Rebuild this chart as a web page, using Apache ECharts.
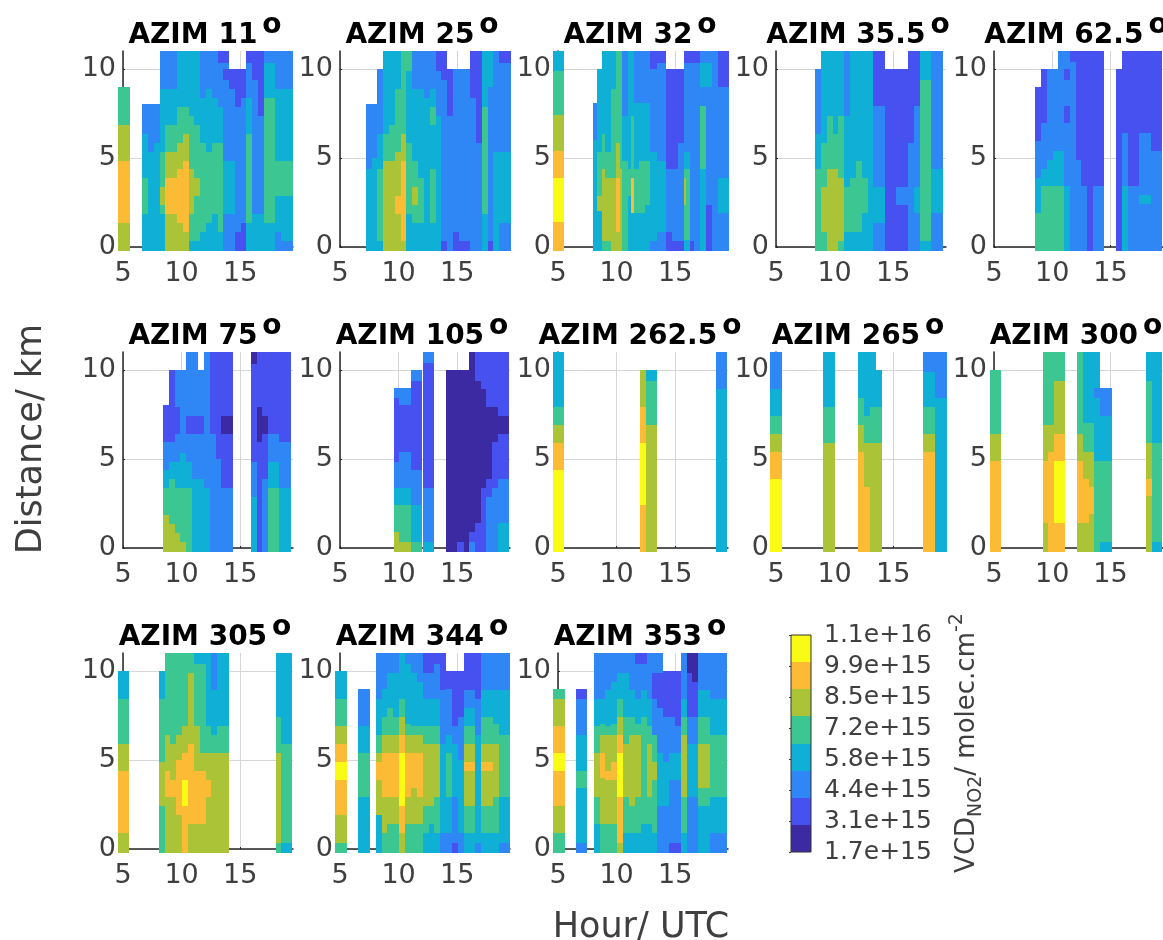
<!DOCTYPE html>
<html><head><meta charset="utf-8">
<style>html,body{margin:0;padding:0;background:#fff}#c{width:1163px;height:940px}</style>
<script src="https://cdn.jsdelivr.net/npm/echarts@6/dist/echarts.min.js"></script>
</head><body><div id="c"></div>
<script>
// Each column: [hourFrom, hourTo, [band, topKm, band, topKm, ...]] – bands stacked upward from the lowest row.
const az11 = [
[4.57,5.57,[5,1.35,6,4.85,5,6.85,4,9]],
[6.65,7.14,[3,1.85,4,3.85,3,6.35,2,8]],[7.14,7.64,[3,5.35,2,8]],[7.64,8.13,[3,5.85,2,8]],
[8.13,8.62,[3,1.85,4,2.35,5,3.35,4,5.35,3,8.85,2,11]],
[8.62,9.61,[5,1.85,6,3.85,5,5.35,4,6.85,3,8.85,2,11]],
[9.61,10.1,[5,1.35,6,4.35,5,5.85,4,7.85,3,11]],
[10.1,10.6,[5,.85,6,4.85,5,6.35,4,7.85,3,11]],
[10.6,11.09,[3,.35,4,1.85,5,4.35,4,7.35,3,11]],
[11.09,11.59,[3,.35,4,2.85,5,3.85,4,6.85,3,11]],
[11.59,12.08,[3,.85,4,5.85,3,8.35,2,11]],
[12.08,12.57,[3,1.35,4,5.35,3,8.85,2,11]],
[12.57,13.07,[3,1.85,4,5.85,3,8.35,2,11]],
[13.07,13.56,[3,.85,4,5.85,3,7.85,2,10.35,1,11]],
[13.56,14.05,[2,1.85,3,4.85,2,9.35,1,10,2,10.35,1,11]],
[14.05,14.55,[2,1.85,3,4.85,2,8.85,1,10]],
[14.55,15.04,[1,.85,2,7.85,1,10]],
[15.04,15.53,[1,1.35,2,8.35,1,10]],
[15.53,16.03,[3,1.35,4,6.35,3,8.35,2,10.35,1,11]],
[16.03,16.52,[3,1.85,2,9.35,1,11]],
[16.52,17.02,[3,1.85,2,7.35,1,11]],
[17.02,18.0,[3,1.35,4,8.35,3,10.35,2,11]],
[18.0,18.5,[2,.85,3,2.85,4,4.85,3,8.85,2,11]],
[18.5,19.48,[2,.35,3,2.85,4,4.85,3,8.85,2,11]]];
const az25 = [
[7.22,7.71,[3,4.35,2,8]],[7.71,8.19,[3,5,2,8]],
[8.19,8.7,[3,.35,4,4.35,3,6.35,2,10]],
[8.7,9.19,[5,4.85,4,6.35,3,11]],[9.19,9.7,[5,4.85,4,6.85,3,11]],
[9.7,10.19,[5,1.85,6,2.85,5,5.35,4,8.85,3,11]],
[10.19,10.67,[5,.35,6,4.85,5,6.35,4,11]],
[10.67,11.18,[3,1.85,4,5.85,3,9.85,4,11]],
[11.18,11.67,[3,1.35,4,2.35,5,3.35,4,4.85,3,8.85,2,11]],
[11.67,12.15,[3,1.35,4,3.85,3,8.85,2,11]],
[12.15,12.64,[3,8.35,2,11]],
[12.64,13.15,[3,1.35,4,4.35,3,6.85,4,7.85,3,8.85,2,11]],
[13.15,13.63,[3,7.35,2,9.85,1,11]],
[13.63,14.12,[1,.35,2,9.35,1,11]],
[14.12,14.63,[2,7.35,1,10]],
[14.63,15.11,[1,.85,2,10]],
[15.11,16.11,[1,.35,2,10]],
[16.11,16.6,[2,8.35,1,11]],
[16.6,17.08,[2,5.85,1,11]],
[17.08,17.59,[3,1.85,4,7.85,3,11]],
[17.59,18.03,[1,.35,2,9,3,11]],
[18.08,18.56,[3,5.35,2,11]],
[18.56,19.56,[2,1.35,3,5.35,2,10.35,1,11]]];
const az32 = [
[4.55,5.5,[6,1.4,7,3.9,6,5.4,5,7.4,4,9.9,3,11]],
[7.96,8.3,[3,6,2,8.1]],
[8.3,8.73,[3,2,5,2.85,4,5.35,3,10]],
[8.73,9.02,[4,.35,5,4.35,4,6.35,3,11]],
[9.02,9.5,[4,.35,5,3.85,4,5.35,3,11]],
[9.5,9.96,[5,3.85,4,8.85,3,11]],
[9.96,10.3,[5,.85,6,3.85,5,5.85,4,11]],
[10.3,10.44,[5,4.35,4,11]],
[10.44,10.93,[4,4.85,3,7.35,2,11]],
[10.93,11.2,[3,2.85,4,4.35,3,11]],
[11.2,11.44,[3,1.9,6,3.85,4,7.35,3,11]],
[11.44,11.92,[3,1.9,4,4.35,3,8.1,2,11]],
[11.92,12.44,[3,1.9,4,4.85,3,8.1,2,11]],
[12.44,12.86,[3,2.35,4,4.85,3,8.1,2,11]],
[12.86,13.43,[2,.35,3,5.35,2,10,1,11]],
[13.43,14.23,[2,.85,3,4.85,2,10.35,1,11]],
[14.23,14.72,[1,.85,2,4.35,1,10]],
[14.72,15.2,[1,.35,2,4.35,1,10]],
[15.2,15.71,[1,.35,2,5.85,1,10]],
[15.71,15.95,[3,.4,4,2.35,5,3.85,4,4.35,3,5.35,2,10.35,1,11]],
[15.95,16.28,[3,.4,4,4.35,3,5.35,2,10.35,1,11]],
[16.28,16.62,[1,.35,2,10.35,1,11]],
[16.62,17.14,[2,10.35,1,11]],
[17.14,17.65,[3,4.35,4,7.9,2,9,3,10.35,2,11]],
[17.65,18.13,[1,2.35,2,9,3,10.35,2,11]],
[18.13,18.62,[2,11]],
[18.62,19.59,[2,1.9,3,3.85,2,9,1,11]]];
const az35 = [
[8.33,8.85,[4,4.35,3,6.35,2,10]],
[8.85,9.33,[4,.85,5,3.35,4,5.85,3,11]],
[9.33,9.84,[5,4.35,4,7.35,3,11]],
[9.84,10.33,[5,4.35,4,6.35,3,11]],
[10.33,10.81,[4,.35,5,3.85,4,7.35,3,11]],
[10.81,11.32,[3,.85,4,3.35,3,7.35,2,11]],
[11.32,11.81,[3,.85,4,3.85,3,11]],
[11.81,12.32,[3,.85,4,4.85,3,11]],
[12.32,12.81,[3,1.9,4,3.85,3,11]],
[12.81,13.29,[3,11]],
[13.29,14.26,[2,1.35,3,3.35,2,7.9,1,11]],
[14.26,15.26,[1,10]],
[15.26,16.23,[1,2.35,2,3.35,1,10]],
[16.23,16.74,[2,5.85,1,11]],
[16.74,17.25,[2,1.9,3,3.35,2,7.9,1,11]],
[17.25,18.25,[3,.35,4,9.35,3,11]],
[18.25,19.25,[2,1.9,3,4.35,2,11]]];
const az62 = [
[8.53,9.05,[4,1.9,3,3.9,2,5.95,1,9]],
[9.05,9.53,[4,3.4,3,4.4,2,6.95,1,10]],
[9.53,10.04,[4,3.4,3,4.9,2,10]],
[10.04,10.53,[4,3.4,3,5.4,2,10]],
[10.53,11.01,[4,3.4,3,5.4,2,11]],
[11.01,11.52,[3,3.4,2,6.95,1,7.9,2,9.4,1,10,2,11]],
[11.52,12.01,[2,10.4,1,11]],
[12.01,12.49,[2,4.9,1,11]],
[12.49,12.98,[2,3.4,1,11]],
[12.98,13.46,[1,11]],
[13.46,14.46,[2,3.4,1,11]],
[15.46,15.97,[1,10]],
[15.97,16.48,[3,3.4,2,6.4,1,11]],
[16.48,17.45,[2,3.4,1,11]],
[17.45,18.48,[2,2.4,3,2.9,2,6.4,1,11]],
[18.48,19.44,[2,5.4,1,11]]];
const az75 = [
[8.42,8.93,[5,1.85,4,3.35,3,4.35,2,5.95,1,8]],
[8.93,9.42,[5,1.35,4,3.85,3,4.85,2,5.95,1,10]],
[9.42,9.9,[5,.85,4,3.35,3,4.85,2,6.4,1,7.9,2,10]],
[9.9,10.41,[5,.35,4,3.35,3,5.35,2,10]],
[10.41,10.9,[4,3.35,3,4.85,2,6.4,1,7.4,2,11]],
[10.9,11.41,[3,3.85,2,6.4,1,7.4,2,11]],
[11.41,11.89,[3,3.85,2,6.4,1,7.4,2,10]],
[11.89,12.41,[3,3.35,2,11]],
[12.41,12.9,[2,6.4,1,11]],
[12.9,13.35,[2,5,1,11]],
[13.35,14.34,[2,3.35,1,6.4,0,7.4,1,11]],
[15.88,16.4,[3,2.85,2,4.85,1,10.35,0,11]],
[16.4,16.85,[1,5.95,0,7.9,1,11]],
[16.85,17.34,[2,3.85,1,6.4,0,7.4,1,11]],
[17.34,18.33,[4,3.35,3,4.85,2,6.4,1,11]],
[18.33,19.33,[3,3.35,2,5.95,1,11]]];
const az105 = [
[9.59,10.07,[5,.9,4,2.4,3,3.35,2,4.85,1,8.4,2,9]],
[10.07,11.04,[5,.35,4,2.4,3,3.35,2,5.4,1,8,2,9]],
[11.04,11.98,[4,.35,3,2.4,2,4.35,1,9.4,2,10]],
[12.04,13.03,[3,.35,2,3.35,1,10.4,2,11]],
[14.06,14.97,[0,10]],
[14.97,15.54,[1,.35,0,10]],
[15.54,16.03,[0,10]],
[16.03,16.54,[2,.35,1,.9,0,11]],
[16.54,17.02,[1,1.4,0,3.85,0,9.4,1,11]],
[17.02,17.48,[1,3.35,0,8.9,1,11]],
[17.48,17.96,[2,2.85,1,3.85,0,7.9,1,11]],
[17.96,18.45,[2,3.35,1,5.95,0,7.9,1,11]],
[18.45,19.44,[3,1.4,2,3.85,1,6.4,0,7.4,1,11]]];
const az262 = [
[4.55,5.55,[7,4.4,6,5.9,5,6.9,4,7.9,3,11]],
[11.98,12.5,[6,2.4,7,5.9,6,7.9,5,10]],
[12.5,13.48,[5,6.9,4,9.4,3,10]],
[18.45,19.43,[3,8.9,2,11]]];
const az265 = [
[4.51,5.49,[7,3.9,6,5.4,5,6.4,4,7.4,3,8.9,2,11]],
[9.05,10.03,[5,5.9,4,7.9,3,11]],
[12.02,12.51,[6,5.4,5,6.9,4,8.4,3,11]],
[12.51,13.03,[6,3.4,5,5.9,4,7.4,3,11]],
[13.03,13.53,[5,5.9,4,7.9,3,11]],
[13.53,14.05,[5,5.9,4,7.9,3,10]],
[17.57,18.58,[6,5.4,5,6.4,4,7.9,3,9.9,2,11]],
[18.58,19.6,[3,8.4,2,11]]];
const az300 = [
[4.63,5.63,[6,4.9,5,6.4,4,10]],
[9.19,9.62,[5,1.4,6,4.9,5,6.9,4,11]],
[9.62,10.19,[6,5.4,5,6.9,4,11]],
[10.19,11.13,[6,1.4,7,4.9,6,6.4,5,9.4,4,11]],
[12.12,12.66,[5,1.4,6,4.9,5,6.4,4,11]],
[12.66,13.12,[5,1.4,6,3.9,5,5.4,4,7,3,11]],
[13.12,13.6,[5,1.9,6,3.4,5,5.4,4,7,3,11]],
[13.6,14.09,[4,4.9,3,8.4,2,9,3,11]],
[14.09,15.09,[3,.35,4,4.9,3,7.4,2,9]],
[18.08,18.59,[5,2.9,6,3.9,5,5.9,4,9.4,3,11]],
[18.59,19.44,[3,.35,4,5.9,3,11]]];
const az305 = [
[4.57,5.52,[5,.9,6,4.4,5,5.9,4,8.4,3,10]],
[8.08,8.56,[4,2.4,5,4.9,4,8.4,3,10]],
[8.56,9.05,[5,2.9,6,4.4,5,6.4,4,11]],
[9.05,9.56,[5,2.9,6,3.9,5,5.9,4,11]],
[9.56,10.04,[5,1.9,6,5,5,6.4,4,11]],
[10.04,10.56,[6,2.4,7,3.9,6,5.4,5,6.9,4,11]],
[10.56,11.04,[5,1.4,6,5.9,5,9.9,4,11]],
[11.04,11.55,[5,1.4,6,4.4,5,6.9,4,10.4,3,11]],
[11.55,12.04,[5,1.4,6,4.4,5,5.4,4,10.4,3,11]],
[12.04,12.52,[5,2.9,6,3.9,5,5.4,4,6.9,3,11]],
[12.52,13.03,[5,5.4,4,6.4,3,8.9,2,11]],
[13.03,14,[5,5.4,4,6.9,3,11]],
[18.02,18.48,[4,.35,5,5.4,4,7.4,3,11]],
[18.48,19.44,[3,.35,4,5.9,3,11]]];
const az344 = [
[4.6,5.57,[4,.35,5,1.9,6,3.9,7,4.9,6,5.9,5,6.9,4,8.4,3,10]],
[6.57,7.56,[3,2.9,4,5.4,3,6.9,2,9]],
[8.05,8.56,[3,1.9,5,3.9,6,4.9,5,5.4,4,6.4,3,8.4,2,11]],
[8.56,9.05,[4,.9,5,2.9,6,5.4,5,6.4,4,7.4,3,9,2,11]],
[9.05,9.56,[4,1.4,5,2.9,6,5.4,5,6.4,4,7.9,3,9.9,2,11]],
[9.56,10.04,[4,1.4,5,2.9,6,5.4,5,6.4,4,7.4,3,9.9,2,11]],
[10.04,10.56,[5,.9,6,2.4,7,5.4,6,6.4,5,7.4,4,8.4,3,11]],
[10.56,11.04,[4,1.4,5,2.9,6,5.4,5,6.4,4,7,3,10.4,2,11]],
[11.04,11.55,[4,1.4,5,3.4,6,5.4,5,6.4,4,6.9,3,9.9,2,11]],
[11.55,12.04,[4,1.4,5,2.9,6,5.4,5,6.4,4,6.9,3,9.4,2,11]],
[12.04,12.55,[3,.9,4,2.4,5,5.9,4,6.9,3,8.4,2,9.9,1,11]],
[12.55,13.03,[3,1.4,4,2.4,5,5.9,4,6.9,3,8.4,2,9.9,1,11]],
[13.03,13.55,[3,.9,4,2.9,5,5.9,4,6.9,3,8.4,2,10.4,1,11]],
[13.55,14.03,[2,.9,3,5.9,2,8.9,1,11]],
[14.03,14.54,[2,.9,3,2.9,4,5.4,3,6.4,2,9,1,10]],
[14.54,15.03,[1,.35,2,2.9,3,5.9,2,6.9,1,10]],
[15.03,15.54,[2,.9,3,5,2,7.4,1,10]],
[15.54,16.54,[3,.9,4,2.4,5,4.4,6,4.9,5,5.9,4,6.9,3,7.9,2,8.9,1,11]],
[16.54,17.02,[2,.35,3,6.4,2,8.4,1,11]],
[17.02,18.02,[3,.9,4,2.4,5,4.4,6,4.9,5,5.9,4,7.4,3,8.9,2,11]],
[18.02,18.53,[3,.9,4,2.9,5,5.9,4,7,3,8.9,2,11]],
[18.53,19.47,[2,.35,3,2.9,4,6.4,3,8.9,2,11]]];
const az353 = [
[4.57,5.57,[4,.9,5,2.4,6,4.4,7,5.4,6,6.9,5,8.4,4,9]],
[6.57,7.51,[2,.35,3,3.4,4,4.4,3,6.4,2,8.4,1,9]],
[8.08,8.56,[3,1.4,4,2.9,5,5.4,4,6.9,3,8.4,2,11]],
[8.56,9.05,[4,1.4,5,4,6,5.4,5,6.4,4,7,3,8.4,2,11]],
[9.05,9.56,[4,1.4,5,3.9,6,4.4,5,6.4,4,6.9,3,8.9,2,11]],
[9.56,10.04,[4,1.4,5,3.9,6,4.9,5,6.4,4,7,3,9.4,2,11]],
[10.04,10.56,[5,.35,6,2.9,7,5.4,6,6.4,5,7.4,4,8.4,3,9.9,2,11]],
[10.56,11.04,[3,.9,4,2.9,5,5.9,4,7.4,3,9.9,2,11]],
[11.04,11.55,[3,.9,4,2.4,5,6.4,4,7.4,3,8.9,2,11]],
[11.55,12.04,[3,.9,4,2.9,5,6.4,4,7,3,8.4,2,10.4,1,11]],
[12.04,12.55,[3,1.4,4,7.4,3,8.9,2,10.4,1,11]],
[12.55,13.03,[3,1.4,4,2.9,5,5.9,4,6.9,3,8.4,2,11]],
[13.03,13.46,[3,.9,4,3.9,5,4.9,4,6.4,2,8.4,1,9.9,2,11]],
[13.46,13.97,[2,2.4,3,5.4,2,7.9,1,9.9,2,11]],
[13.97,14.46,[2,2.4,3,4.9,2,7.4,1,10]],
[14.46,14.97,[1,.35,2,3.9,3,5.4,2,7.4,1,10]],
[14.97,15.46,[1,.35,2,3.9,3,5.4,2,6.9,1,10]],
[15.46,15.97,[3,.9,4,2.9,5,6.4,4,7.4,3,8.4,2,11]],
[15.97,16.45,[2,2.9,3,5.9,2,7.4,1,9.9,0,11]],
[16.45,16.97,[2,2.9,3,5.9,2,7.4,1,9.4,0,11]],
[16.97,17.96,[3,2.4,4,3.4,5,5.9,4,7.4,3,8.9,2,11]],
[17.96,19.44,[2,.9,3,2.9,4,6.4,3,8.4,2,11]]];

const azimuths = ['11','25','32','35.5','62.5','75','105','262.5','265','300','305','344','353'];
const panelColumns = [az11,az25,az32,az35,az62,az75,az105,az262,az265,az300,az305,az344,az353];
const hourTicks = [5,10,15];
const kmTicks = [0,5,10];
const bandColors = ['#3c2aa3','#4651f0','#2e87f5','#10afd6','#3cc692','#aac337','#fcbb34','#f9fb15'];
const colorbarLabels = ['1.7e+15','3.1e+15','4.4e+15','5.8e+15','7.2e+15','8.5e+15','9.9e+15','1.1e+16'];

const textColor = '#3f3f3f', font = 'DejaVu Sans';
const colLefts = [123,340,558,776,994], rowTops = [51,352,653];
const gridW = 170, gridH = 196, rowBase = -0.2;

const grids=[],xAxes=[],yAxes=[],series=[],titles=[];
function cell(params, api){
  const a = api.coord([api.value(0), api.value(2)]);
  const b = api.coord([api.value(1), api.value(3)]);
  const x = Math.round(a[0]), y = Math.round(b[1]);
  return {type:'rect', shape:{x, y, width:Math.round(b[0])-x, height:Math.round(a[1])-y},
          style:{fill:bandColors[api.value(4)]}};
}
panelColumns.forEach((cols,i)=>{
  const left = colLefts[i%5], top = rowTops[Math.floor(i/5)];
  grids.push({left, top, width:gridW, height:gridH, containLabel:false});
  xAxes.push({gridIndex:i,type:'value',min:5,max:19.5,
    axisLine:{show:true,onZero:false,lineStyle:{color:'#262626',width:1.5}},
    axisTick:{show:true,inside:true,length:2,customValues:hourTicks,lineStyle:{color:'#262626'}},
    axisLabel:{customValues:hourTicks,color:textColor,fontFamily:font,fontSize:27,margin:13},
    splitLine:{show:true,lineStyle:{color:'#d6d6d6',width:1}}});
  yAxes.push({gridIndex:i,type:'value',min:0,max:11,
    axisLine:{show:true,onZero:false,lineStyle:{color:'#262626',width:1.5}},
    axisTick:{show:true,inside:true,length:2,customValues:kmTicks,lineStyle:{color:'#262626'}},
    axisLabel:{customValues:kmTicks,color:textColor,fontFamily:font,fontSize:27,margin:7,padding:[4,0,0,0]},
    splitLine:{show:true,lineStyle:{color:'#d6d6d6',width:1}}});
  const data=[];
  cols.forEach(([from,to,runs])=>{
    let bottom=rowBase;
    for(let r=0;r<runs.length;r+=2){ data.push([from,to,bottom,runs[r+1],runs[r]]); bottom=runs[r+1]; }
  });
  series.push({type:'custom',xAxisIndex:i,yAxisIndex:i,z:5,clip:false,silent:true,animation:false,
    renderItem:cell,encode:{x:[0,1],y:[2,3]},data});
  titles.push({text:'{a|AZIM '+azimuths[i]+'}{o|o}',left:left+77,top:top-44,textAlign:'center',
    textStyle:{rich:{
      a:{fontFamily:font,fontWeight:'bold',fontSize:28,color:'#000'},
      o:{fontFamily:font,fontWeight:'bold',fontSize:28,color:'#000',padding:[0,0,20,5]}}}});
});
// colour bar
const cb = panelColumns.length;
grids.push({left:791,top:635,width:20,height:217});
xAxes.push({gridIndex:cb,type:'value',min:0,max:1,show:false});
yAxes.push({gridIndex:cb,type:'value',min:0,max:colorbarLabels.length-1,interval:1,position:'right',
  axisLine:{show:false},splitLine:{show:false},
  axisTick:{show:true,inside:true,length:2,lineStyle:{color:'#333'}},
  axisLabel:{color:textColor,fontFamily:font,fontSize:25,margin:13,padding:[4,0,0,0],formatter:v=>colorbarLabels[v]||''}});
series.push({type:'custom',xAxisIndex:cb,yAxisIndex:cb,z:1,clip:false,silent:true,animation:false,
  renderItem:cell,encode:{x:[0,1],y:[2,3]},
  data:bandColors.map((c,i)=>[0,1,i*(colorbarLabels.length-1)/bandColors.length,(i+1)*(colorbarLabels.length-1)/bandColors.length,i])});

const chart = echarts.init(document.getElementById('c'),null,{renderer:'canvas',width:1163,height:940});
chart.setOption({
  animation:false,backgroundColor:'#fff',
  title:titles,grid:grids,xAxis:xAxes,yAxis:yAxes,series,
  graphic:[
    {type:'rect',z:50,shape:{x:791,y:635,width:20,height:217},style:{fill:'none',stroke:'#333',lineWidth:1}},
    {type:'text',z:50,x:32,y:439,rotation:Math.PI/2,style:{text:'Distance/ km',fontFamily:font,fontSize:35,fill:textColor,align:'center',verticalAlign:'middle'}},
    {type:'text',z:50,x:641,y:928,style:{text:'Hour/ UTC',fontFamily:font,fontSize:35,fill:textColor,align:'center',verticalAlign:'middle'}},
    {type:'text',z:50,x:967,y:743,rotation:Math.PI/2,style:{text:'VCD{s|NO2}/ molec.cm{p|-2}',fontFamily:font,fontSize:26,fill:textColor,align:'center',verticalAlign:'middle',
      rich:{s:{fontFamily:font,fontSize:19,fill:textColor,padding:[18,0,0,0]},p:{fontFamily:font,fontSize:19,fill:textColor,padding:[0,0,20,0]}}}}
  ]
});
</script></body></html>
